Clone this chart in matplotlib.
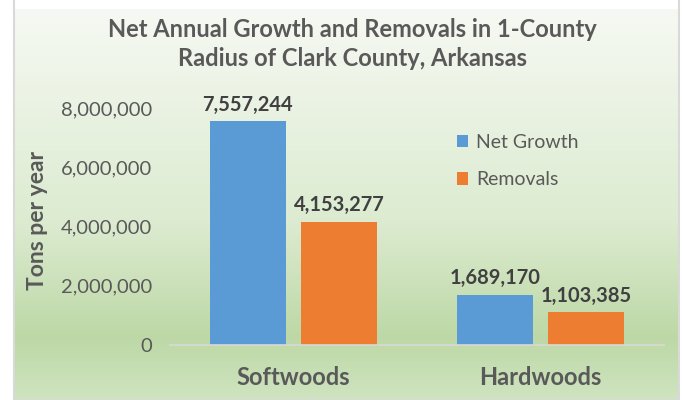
import matplotlib.pyplot as plt
import numpy as np
from matplotlib.colors import LinearSegmentedColormap
from matplotlib.patches import Rectangle

categories = ['Softwoods', 'Hardwoods']
series = ['Net Growth', 'Removals']
net_growth = [7557244, 1689170]
removals = [4153277, 1103385]
colors = ['#5B9BD5', '#ED7D31']

plt.rcParams['font.family'] = ['Lato', 'DejaVu Sans']
txt = '#595959'

fig = plt.figure(figsize=(6.82, 4.0), dpi=100)

# gradient background panel
bg = fig.add_axes([14 / 682, 0, 665 / 682, 391 / 400])
cmap = LinearSegmentedColormap.from_list(
    'bg', [(0, '#f6f9f3'), (0.55, '#dcebd0'), (0.84, '#bdd8a6'), (1, '#cfe4c0')])
grad = np.linspace(0, 1, 256).reshape(-1, 1)
bg.imshow(grad, aspect='auto', cmap=cmap, extent=[0, 1, 1, 0])
bg.set_xlim(0, 1)
bg.set_ylim(1, 0)
bg.add_patch(Rectangle((0, 0), 1, 1.05, fill=False, edgecolor='#d9d9d9', lw=1.5,
                       transform=bg.transAxes, clip_on=False))
bg.axis('off')

ax = fig.add_axes([170 / 682, 55 / 400, 494 / 682, 237 / 400])
ax.patch.set_alpha(0)

x = np.arange(len(categories))
w = 0.31
off = 0.185
b1 = ax.bar(x - off, net_growth, w, color=colors[0], label=series[0], zorder=2)
b2 = ax.bar(x + off, removals, w, color=colors[1], label=series[1], zorder=2)

for bars, vals in [(b1, net_growth), (b2, removals)]:
    for bar, v in zip(bars, vals):
        ax.text(bar.get_x() + bar.get_width() / 2, v + 220000, f'{v:,}',
                ha='center', va='bottom', fontsize=14.5, fontweight='bold',
                color='#404040', clip_on=False)

ax.set_xlim(-0.5, 1.5)
ax.set_ylim(0, 8000000)
ax.set_yticks(np.arange(0, 8000001, 2000000))
ax.set_yticklabels([f'{int(t):,}' for t in ax.get_yticks()], fontsize=14.5, color=txt)
ax.set_xticks(x)
ax.set_xticklabels(categories, fontsize=17, fontweight='bold', color=txt)
ax.tick_params(axis='both', length=0)
ax.tick_params(axis='y', pad=13)
ax.tick_params(axis='x', pad=15)
for s in ['top', 'right', 'left']:
    ax.spines[s].set_visible(False)
ax.spines['bottom'].set_color('#d9d9d9')
ax.spines['bottom'].set_linewidth(1.2)

fig.text(38 / 682, 1 - 220 / 400, 'Tons per year', rotation=90, ha='center', va='center',
         fontsize=16.5, fontweight='bold', color=txt)

fig.text(352 / 682, 1 - 44 / 400,
         'Net Annual Growth and Removals in 1-County\nRadius of Clark County, Arkansas',
         ha='center', va='center', fontsize=17, fontweight='bold', color=txt,
         linespacing=1.3)

leg = ax.legend(loc='upper left', bbox_to_anchor=((449 - 170) / 494, (345 - 126) / 237),
                frameon=False, fontsize=14, handlelength=0.6, handleheight=0.6,
                handletextpad=0.4, labelspacing=1.05, borderaxespad=0)
for t in leg.get_texts():
    t.set_color(txt)

fig.savefig('out.png', dpi=100)
